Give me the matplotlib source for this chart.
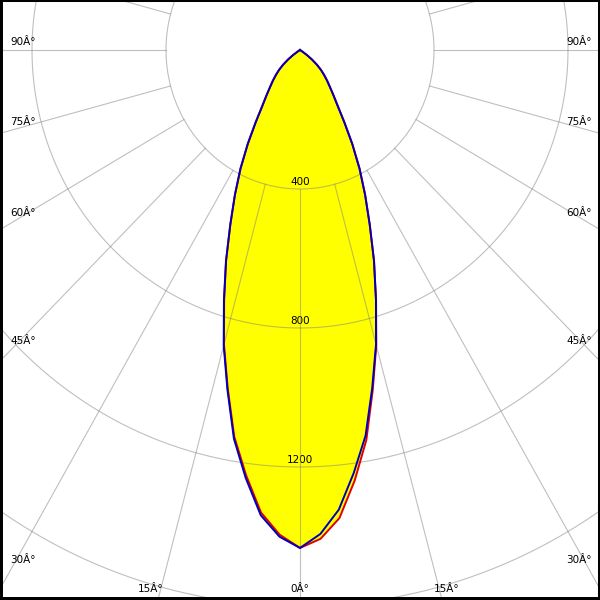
import numpy as np
import matplotlib
matplotlib.use("Agg")
import matplotlib.pyplot as plt

# polar light distribution, gamma in degrees, intensity in cd
gamma = [0, 2.5, 5, 7.5, 10, 12.5, 15, 17.5, 20, 22.5, 25, 27.5, 30,
         32.5, 35, 37.5, 40, 42.5, 45, 47.5, 50, 52.5, 55, 57.5, 60, 90]
c0 = [1433, 1408, 1352, 1250, 1140, 1003, 880, 755, 646, 544, 460, 385, 312,
      246, 196, 164, 139, 120, 102, 85, 66, 45, 25, 8, 0, 0]
c180 = [1433, 1396, 1336, 1234, 1130, 997, 877, 753, 645, 543, 459, 384, 311,
        245, 195, 164, 139, 120, 102, 85, 66, 45, 25, 8, 0, 0]
c90 = [1433, 1394, 1328, 1228, 1127, 996, 877, 754, 646, 544, 460, 385, 312,
       246, 196, 164, 139, 120, 102, 85, 66, 45, 25, 8, 0, 0]
c270 = [1433, 1402, 1344, 1242, 1136, 1001, 880, 755, 646, 544, 460, 385, 312,
        246, 196, 164, 139, 120, 102, 85, 66, 45, 25, 8, 0, 0]

rings = [400, 800, 1200, 1600]
ring_labels = ["400", "800", "1200"]
spoke_angles = np.arange(0, 360, 15)
side_labels = ["90Â°", "75Â°", "60Â°", "45Â°", "30Â°"]
bottom_labels = ["15Â°", "0Â°", "15Â°"]

# pixel scale of the picture (px per cd), slightly different in x and y
sx = 0.335
sy = 0.3475


def curve(left, right):
    g = np.radians(gamma)
    xl = -np.array(left) * np.sin(g)
    yl = -np.array(left) * np.cos(g)
    xr = np.array(right) * np.sin(g)
    yr = -np.array(right) * np.cos(g)
    x = np.concatenate([xl[::-1], xr[1:]])
    y = np.concatenate([yl[::-1], yr[1:]])
    return x, y


fig = plt.figure(figsize=(6, 6), dpi=100)
ax = fig.add_axes([0, 0, 1, 1])
ax.set_xlim(-300 / sx, 300 / sx)
ax.set_ylim(-550 / sy, 50 / sy)
ax.set_xticks([])
ax.set_yticks([])
for side, lw in [("left", 4.3), ("bottom", 4.3), ("top", 2.9), ("right", 2.9)]:
    ax.spines[side].set_linewidth(lw)
    ax.spines[side].set_color("black")

xr, yr = curve(c180, c0)
xb, yb = curve(c270, c90)
ax.fill(xr, yr, color="#ffff00", lw=0, zorder=1)
ax.fill(xb, yb, color="#ffff00", lw=0, zorder=1)

# grid
t = np.linspace(0, 2 * np.pi, 721)
for r in rings:
    ax.plot(r * np.sin(t), r * np.cos(t), color="#808080", alpha=0.5, lw=0.8, zorder=2)
for a in spoke_angles:
    ar = np.radians(a)
    ax.plot([rings[0] * np.sin(ar), 2500 * np.sin(ar)],
            [-rings[0] * np.cos(ar), -2500 * np.cos(ar)],
            color="#808080", alpha=0.5, lw=0.8, zorder=2)

ax.plot(xr, yr, color="#dd0000", lw=1.4, zorder=3)
ax.plot(xb, yb, color="#0000bb", lw=1.4, zorder=4)

fs = 7.5
for r, lab in zip(rings, ring_labels):
    ax.text(0, -r + 7 / sy, lab, ha="center", va="center", fontsize=fs, zorder=1.5)

# side labels at the left and right edges (pixel rows from the picture)
side_rows = [42, 122, 213, 341, 560]
for lab, row in zip(side_labels, side_rows):
    y = (50 - row) / sy
    ax.text((10 - 300) / sx, y, lab, ha="left", va="center", fontsize=fs, zorder=5)
    ax.text((566 - 300) / sx, y, lab, ha="left", va="center", fontsize=fs, zorder=5)

bottom_cols = [151, 300, 447]
for lab, col in zip(bottom_labels, bottom_cols):
    ax.text((col - 300) / sx, (50 - 589) / sy, lab, ha="center", va="center",
            fontsize=fs, zorder=5)

fig.savefig("out.png", dpi=100)
